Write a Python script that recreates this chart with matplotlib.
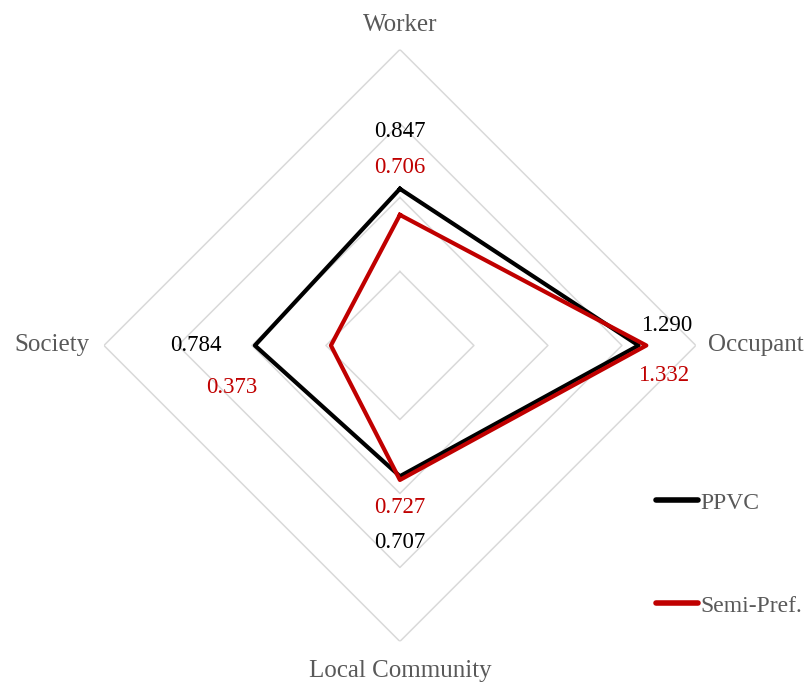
import matplotlib.pyplot as plt
import numpy as np
from matplotlib.lines import Line2D

plt.rcParams['font.family'] = ['Liberation Serif', 'DejaVu Serif']

categories = ['Worker', 'Occupant', 'Local Community', 'Society']
ppvc = [0.847, 1.290, 0.707, 0.784]
semi = [0.706, 1.332, 0.727, 0.373]
rings = [0.4, 0.8, 1.2, 1.6]

black = '#000000'
red = '#C00000'
grey_txt = '#595959'

angles = np.linspace(0, 2 * np.pi, len(categories), endpoint=False)
closed = np.append(angles, angles[0])

fig = plt.figure(figsize=(8.12, 6.86), dpi=100)
ax = fig.add_axes([0.128, 0.0649, 0.729, 0.863], projection='polar')
ax.set_theta_offset(np.pi / 2)
ax.set_theta_direction(-1)
ax.set_ylim(0, 1.6)
ax.grid(False)
ax.spines['polar'].set_visible(False)
ax.set_xticks([])
ax.set_yticks([])

# diamond grid
for r in rings:
    ax.plot(closed, [r] * len(closed), color='#d9d9d9', lw=1.1, zorder=1)

ax.plot(closed, ppvc + ppvc[:1], color=black, lw=3, zorder=3)
ax.plot(closed, semi + semi[:1], color=red, lw=3, zorder=4)

# axis labels
lab_off = [(0, 24), (60, 0), (0, -30), (-52, 0)]
for a, name, off in zip(angles, categories, lab_off):
    ax.annotate(name, (a, 1.6), xytext=off, textcoords='offset pixels',
                ha='center', va='center', fontsize=18, color=grey_txt)

# data labels
off_ppvc = [(0, 57), (28, 20), (0, -66), (-59, 0)]
off_semi = [(0, 47), (17, -30), (0, -28), (-99, -42)]
for a, v, off in zip(angles, ppvc, off_ppvc):
    ax.annotate(f'{v:.3f}', (a, v), xytext=off, textcoords='offset pixels',
                ha='center', va='center', fontsize=16.5, color=black)
for a, v, off in zip(angles, semi, off_semi):
    ax.annotate(f'{v:.3f}', (a, v), xytext=off, textcoords='offset pixels',
                ha='center', va='center', fontsize=16.5, color=red)

handles = [Line2D([], [], color=black, lw=4, solid_capstyle='round'),
           Line2D([], [], color=red, lw=4, solid_capstyle='round')]
leg = fig.legend(handles, ['PPVC', 'Semi-Pref.'], loc='upper left',
                 bbox_to_anchor=(656 / 812, 1 - 492 / 686), frameon=False,
                 fontsize=17, handlelength=1.8, handletextpad=0.08,
                 labelspacing=3.45, borderpad=0, borderaxespad=0)
for t in leg.get_texts():
    t.set_color(grey_txt)

fig.savefig('out.png', dpi=100)
